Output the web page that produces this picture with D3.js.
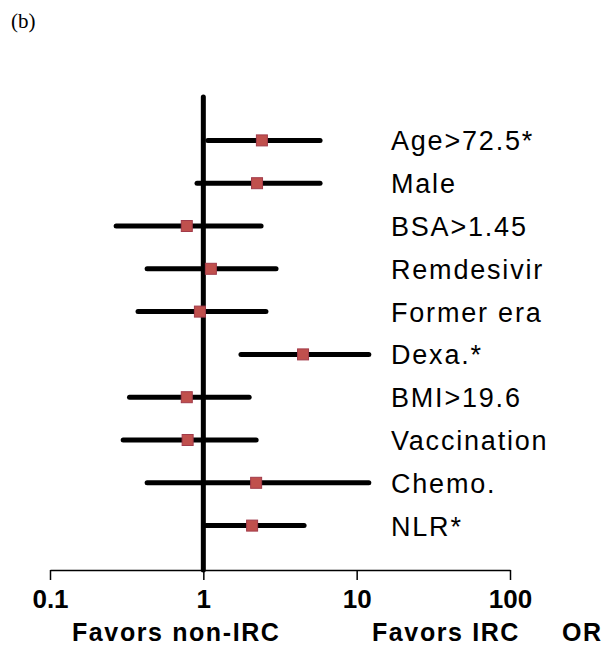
<!DOCTYPE html>
<html>
<head>
<meta charset="utf-8">
<script src="https://cdn.jsdelivr.net/npm/d3@7"></script>
<style>
  body { margin: 0; background: #fff; }
  svg { display: block; }
</style>
</head>
<body>
<svg id="chart" width="606" height="652"></svg>
<script>
// Odds ratios with 95% CI
const labels = ['Age>72.5*', 'Male', 'BSA>1.45', 'Remdesivir', 'Former era', 'Dexa.*', 'BMI>19.6', 'Vaccination', 'Chemo.', 'NLR*'];
const orValues = [2.41, 2.24, 0.78, 1.12, 0.95, 4.47, 0.78, 0.79, 2.21, 2.08];
const ciLow = [1.07, 0.91, 0.27, 0.43, 0.375, 1.76, 0.33, 0.30, 0.43, 1.04];
const ciHigh = [5.77, 5.77, 2.38, 2.98, 2.56, 12.0, 1.99, 2.21, 12.0, 4.54];
const tickValues = [0.1, 1, 10, 100];
const tickLabels = ['0.1', '1', '10', '100'];

const svg = d3.select('#chart');

const x = d3.scaleLog().domain([0.1, 100]).range([50, 510]);
const y = d3.scaleBand().domain(labels).range([119, 547]);

const rows = labels.map((l, i) => ({ label: l, or: orValues[i], lo: ciLow[i], hi: ciHigh[i] }));

// panel tag
svg.append('text')
  .attr('x', 11).attr('y', 28)
  .attr('font-family', 'Liberation Serif, Times New Roman, serif')
  .attr('font-size', 21)
  .text('(b)');

// axis
const axisY = 570;
const axis = d3.axisBottom(x)
  .tickValues(tickValues)
  .tickFormat((d, i) => tickLabels[i])
  .tickSizeInner(10)
  .tickSizeOuter(0)
  .tickPadding(10);

const gAxis = svg.append('g')
  .attr('transform', `translate(0,${axisY})`)
  .call(axis);
gAxis.select('.domain').attr('stroke', '#000').attr('stroke-width', 1.5);
gAxis.selectAll('.tick line').attr('stroke', '#000').attr('stroke-width', 1.5);
gAxis.selectAll('.tick text')
  .attr('fill', '#000')
  .attr('font-family', 'Liberation Sans, Arial, sans-serif')
  .attr('font-weight', 'bold')
  .attr('font-size', 26);

// reference line at OR = 1
svg.append('line')
  .attr('x1', x(1)).attr('x2', x(1))
  .attr('y1', 97).attr('y2', axisY)
  .attr('stroke', '#000')
  .attr('stroke-width', 5)
  .attr('stroke-linecap', 'round');

// confidence intervals
svg.append('g')
  .selectAll('line')
  .data(rows)
  .enter()
  .append('line')
  .attr('x1', d => x(d.lo))
  .attr('x2', d => x(d.hi))
  .attr('y1', d => y(d.label) + y.bandwidth() / 2)
  .attr('y2', d => y(d.label) + y.bandwidth() / 2)
  .attr('stroke', '#000')
  .attr('stroke-width', 5)
  .attr('stroke-linecap', 'round');

// point estimates
const sq = 11;
svg.append('g')
  .selectAll('rect')
  .data(rows)
  .enter()
  .append('rect')
  .attr('x', d => x(d.or) - sq / 2)
  .attr('y', d => y(d.label) + y.bandwidth() / 2 - sq / 2)
  .attr('width', sq)
  .attr('height', sq)
  .attr('fill', '#c0504d')
  .attr('stroke', '#a23b4a')
  .attr('stroke-width', 1);

// row labels
svg.append('g')
  .selectAll('text')
  .data(rows)
  .enter()
  .append('text')
  .attr('x', 391)
  .attr('y', d => y(d.label) + y.bandwidth() / 2 + 10)
  .attr('font-family', 'Liberation Sans, Arial, sans-serif')
  .attr('font-size', 27)
  .attr('letter-spacing', 1.8)
  .attr('fill', '#000')
  .text(d => d.label);

// bottom captions
const captions = [
  { text: 'Favors non-IRC', x: 72 },
  { text: 'Favors IRC', x: 372 },
  { text: 'OR', x: 562 }
];
svg.append('g')
  .selectAll('text')
  .data(captions)
  .enter()
  .append('text')
  .attr('x', d => d.x)
  .attr('y', 641)
  .attr('font-family', 'Liberation Sans, Arial, sans-serif')
  .attr('font-weight', 'bold')
  .attr('font-size', 25)
  .attr('letter-spacing', 1.6)
  .attr('fill', '#000')
  .text(d => d.text);
</script>
</body>
</html>
